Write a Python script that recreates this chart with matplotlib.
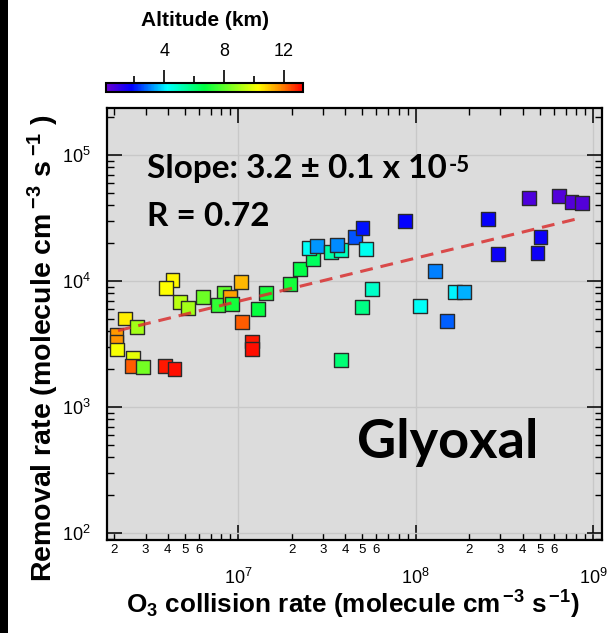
import matplotlib
matplotlib.use("Agg")
import matplotlib.pyplot as plt
from matplotlib.colors import LinearSegmentedColormap, Normalize
from matplotlib.ticker import LogLocator, FuncFormatter, FixedLocator, NullFormatter, LogFormatterMathtext
from matplotlib.patches import Rectangle

plt.rcParams['font.family'] = ['Liberation Sans', 'DejaVu Sans']
plt.rcParams['mathtext.fontset'] = 'custom'
plt.rcParams['mathtext.rm'] = 'Liberation Sans'
plt.rcParams['mathtext.bf'] = 'Liberation Sans:bold'
plt.rcParams['mathtext.it'] = 'Liberation Sans:italic'
plt.rcParams['mathtext.default'] = 'rm'

# O3 collision rate (molecule cm-3 s-1)
collision_rate = [4.26e6, 3.90e6, 4.68e6, 5.21e6, 6.33e6, 8.29e6, 7.70e6, 8.96e6, 9.19e6, 1.04e7,
                  1.44e7, 1.29e7, 1.95e7, 2.23e7, 2.65e7, 2.51e7, 2.76e7, 3.34e7, 3.80e7, 3.60e7,
                  4.54e7, 5.01e7, 5.23e7, 5.69e7, 4.98e7, 3.81e7, 8.73e7, 2.55e8, 4.35e8, 6.42e8,
                  7.54e8, 8.65e8, 5.04e8, 2.91e8, 4.85e8, 1.28e8, 1.06e8, 1.67e8, 1.87e8, 1.50e8,
                  1.05e7, 1.20e7, 1.20e7, 2.29e6, 2.70e6, 2.06e6, 2.06e6, 2.07e6, 2.55e6, 2.52e6,
                  2.91e6, 3.88e6, 4.37e6]
# Glyoxal removal rate (molecule cm-3 s-1)
removal_rate = [1.02e4, 8.75e3, 6.78e3, 6.14e3, 7.43e3, 8.08e3, 6.45e3, 7.43e3, 6.57e3, 9.76e3,
                8.08e3, 6.00e3, 9.47e3, 1.24e4, 1.50e4, 1.83e4, 1.90e4, 1.69e4, 1.76e4, 1.94e4,
                2.25e4, 2.62e4, 1.79e4, 8.64e3, 6.25e3, 2.36e3, 2.98e4, 3.12e4, 4.58e4, 4.75e4,
                4.22e4, 4.14e4, 2.25e4, 1.65e4, 1.66e4, 1.21e4, 6.37e3, 8.14e3, 8.14e3, 4.81e3,
                4.70e3, 3.31e3, 2.90e3, 5.04e3, 4.31e3, 3.73e3, 3.30e3, 2.86e3, 2.46e3, 2.12e3,
                2.09e3, 2.12e3, 2.01e3]
# Sampling altitude (km)
altitude_km = [10.4, 10.3, 9.3, 9.0, 8.2, 8.0, 7.4, 11.5, 7.0, 11.2,
               7.0, 6.8, 7.0, 6.6, 6.3, 4.3, 3.2, 5.4, 5.0, 3.1,
               2.6, 2.0, 4.4, 4.9, 5.8, 6.0, 1.8, 1.7, 0.6, 0.5,
               0.5, 0.5, 1.6, 1.6, 1.6, 3.0, 4.3, 4.1, 3.5, 2.7,
               12.3, 13.0, 13.1, 10.5, 9.0, 11.6, 11.7, 10.2, 9.9, 12.3,
               8.3, 13.0, 13.1]

# Fitted trend line end points
fit_x = [2.10e6, 8.61e8]
fit_y = [4.04e3, 3.18e4]

slope_text = "Slope: 3.2 \u00b1 0.1 x 10"
slope_exp = "-5"
r_text = "R = 0.72"
species = "Glyoxal"

alt_ticks = [4, 8, 12]
alt_minor = [2, 6, 10]
alt_range = (0.1, 13.3)

cmap = LinearSegmentedColormap.from_list(
    "alt",
    [(0.0, "#6a00d0"), (0.129, "#0000ff"), (0.31, "#00ffff"), (0.5, "#00ff40"),
     (0.773, "#ffff00"), (0.886, "#ff8c00"), (1.0, "#ff0000")])
norm = Normalize(*alt_range)

fig = plt.figure(figsize=(6.1, 6.33), dpi=100)
fig.patches.append(Rectangle((0, 0), 8 / 610, 1, transform=fig.transFigure,
                             facecolor="black", edgecolor="none"))

ax = fig.add_axes([107 / 610, 1 - 540 / 633, 495 / 610, 432 / 633])
ax.set_facecolor("#dcdcdc")
ax.set_xscale("log")
ax.set_yscale("log")
ax.set_xlim(1.82e6, 1.12e9)
ax.set_ylim(88, 2.36e5)

sc = ax.scatter(collision_rate, removal_rate, c=altitude_km, cmap=cmap, norm=norm,
                marker="s", s=100, edgecolors="#2a2a2a", linewidths=1.0, zorder=3)
ax.plot(fit_x, fit_y, color="#d93030", lw=2.2, ls=(0, (4.2, 2.6)), alpha=0.85, zorder=4)

ax.grid(True, which="major", color="#c8c8c8", lw=1)
ax.set_axisbelow(True)

ax.xaxis.set_major_locator(LogLocator(base=10, numticks=12))
ax.xaxis.set_minor_locator(LogLocator(base=10, subs=range(2, 10), numticks=12))
ax.xaxis.set_major_formatter(LogFormatterMathtext())


def minor_label(v, pos):
    m = round(v / 10 ** int(f"{v:e}".split("e")[1]))
    return str(m) if 2 <= m <= 6 else ""


ax.xaxis.set_minor_formatter(FuncFormatter(minor_label))
ax.yaxis.set_major_locator(LogLocator(base=10, numticks=12))
ax.yaxis.set_minor_locator(LogLocator(base=10, subs=range(2, 10), numticks=12))
ax.yaxis.set_major_formatter(LogFormatterMathtext())
ax.yaxis.set_minor_formatter(NullFormatter())

ax.tick_params(which="both", direction="in", top=True, right=True, color="black")
ax.tick_params(which="major", length=11, width=1.1, labelsize=13)
ax.tick_params(which="minor", length=5, width=1.0, labelsize=9.5)
ax.tick_params(axis="x", which="major", pad=20)
ax.tick_params(axis="x", which="minor", pad=3)
ax.tick_params(axis="y", which="major", pad=12)
for s in ax.spines.values():
    s.set_linewidth(1.6)

ax.set_xlabel(r"O$_\mathbf{3}$ collision rate (molecule cm$^{\,\mathbf{-3}}$ s$^{\,\mathbf{-1}}$)",
              fontsize=18.8, fontweight="bold")
ax.set_ylabel(r"Removal rate (molecule cm$^{\;\mathbf{-3}}$ s$^{\;\mathbf{-1}}$ )",
              fontsize=20.5, fontweight="bold")
ax.xaxis.set_label_coords(0.497, -0.114)
ax.yaxis.set_label_coords(-0.093, 0.443)

t1 = ax.text(0.081, 0.838, slope_text, transform=ax.transAxes, family="Lato",
             fontsize=24, fontweight="bold", ha="left", va="baseline", zorder=5)
ax.annotate(slope_exp, xy=(1.0, 1.0), xycoords=t1, xytext=(1, -1),
            textcoords="offset points", family="Lato", fontsize=16, fontweight="bold",
            ha="left", va="top", zorder=5)
ax.text(0.081, 0.727, r_text, transform=ax.transAxes, family="Lato",
        fontsize=24, fontweight="bold", ha="left", va="baseline", zorder=5)
ax.text(0.689, 0.19, species, transform=ax.transAxes, family="Lato",
        fontsize=39, fontweight="bold", ha="center", va="baseline", zorder=5)

# Altitude colour bar
cax = fig.add_axes([106 / 610, 1 - 92 / 633, 197 / 610, 9 / 633])
cb = fig.colorbar(sc, cax=cax, orientation="horizontal")
cb.outline.set_linewidth(1.5)
cax.xaxis.set_ticks_position("top")
cax.xaxis.set_major_locator(FixedLocator(alt_ticks))
cax.xaxis.set_minor_locator(FixedLocator(alt_minor))
cax.tick_params(which="major", direction="out", length=9.5, width=1.2, labelsize=13, pad=7)
cax.tick_params(which="minor", direction="out", length=5, width=1.2)
fig.text(205 / 610, 1 - 20 / 633, "Altitude (km)", ha="center", va="center",
         fontsize=15, fontweight="bold")

fig.savefig("out.png", dpi=100)
